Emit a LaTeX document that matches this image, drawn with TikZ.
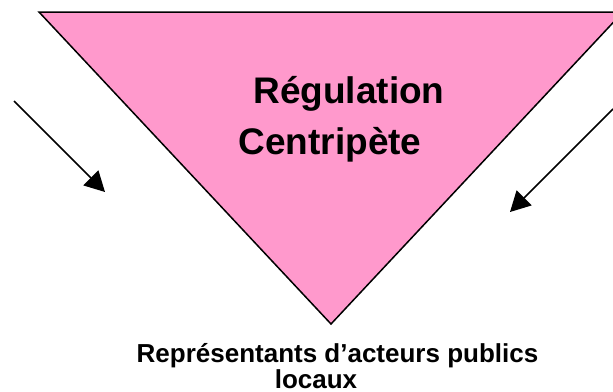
\documentclass[tikz,border=0pt]{standalone}
\usepackage{fontspec}
\setmainfont{Liberation Sans}
\definecolor{P}{RGB}{255,153,204}
\usetikzlibrary{arrows.meta}
\usetikzlibrary{positioning}
\tikzstyle{base}=[x=1pt, y=-1pt, inner sep=0pt, outer sep=0pt]
\tikzstyle{big}=[anchor=base, font=\fontsize{37}{44}\selectfont\bfseries]
\tikzstyle{small}=[anchor=base, font=\fontsize{26}{30}\selectfont\bfseries]
\tikzstyle{flow}=[black, line width=1.5pt, -{Triangle[length=20pt,width=21pt]}]

\begin{document}
\begin{tikzpicture}[base]
    \path [use as bounding box] (0,0) rectangle (613,391);
    \begin{scope}
        \clip (0,0) rectangle (613,391);
        \draw [black, line width=1.5pt, fill=P] (39,12) -- (623,12) -- (331,324) -- cycle;
    \end{scope}
    \node [big] (reg) at (349,103) {Régulation};
    \node [big] (cen) at (330,154) {Centripète};
    \node [small] (rep) at (337.5,362) {Représentants d’acteurs publics};
    \node [small] (loc) at (316,388) {locaux};
    % arrows
    \coordinate (la) at (14,101);
    \coordinate (lb) at (105,192);
    \coordinate (ra) at (613,109);
    \coordinate (rb) at (510,212);
    \draw [flow] (la) -- (lb);
    \draw [flow] (ra) -- (rb);
\end{tikzpicture}
\end{document}
